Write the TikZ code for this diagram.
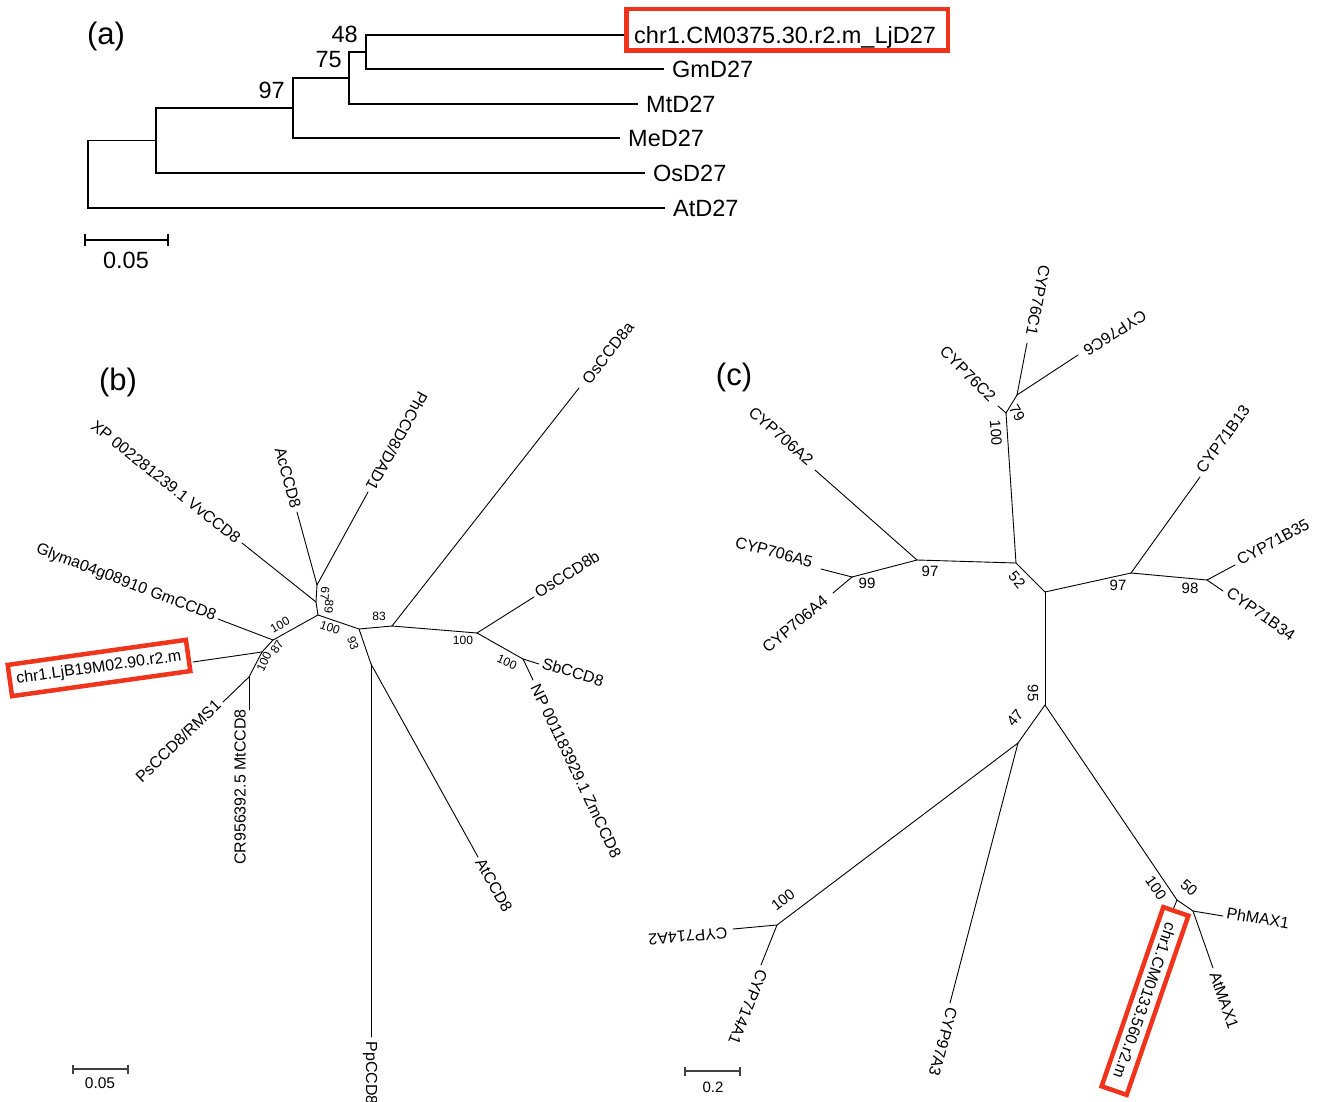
\documentclass[tikz,border=0pt]{standalone}
\usepackage{fontspec}
\setmainfont{Liberation Sans}
\definecolor{boxred}{RGB}{240,52,28}
\tikzset{
  br/.style={line width=0.9pt, line cap=round},
  bra/.style={line width=1.2pt},
  scb/.style={line width=1.2pt, draw=black!75},
  leafa/.style={font=\fontsize{23.5}{28}\selectfont, inner sep=0pt, anchor=base west},
  bsa/.style={font=\fontsize{23.5}{28}\selectfont, inner sep=0pt, anchor=base east},
  leaf/.style={font=\fontsize{16}{19}\selectfont, inner sep=0pt},
  bsb/.style={font=\fontsize{12}{14}\selectfont, inner sep=0pt},
  bsc/.style={font=\fontsize{15}{18}\selectfont, inner sep=0pt},
  panel/.style={font=\fontsize{31}{36}\selectfont, inner sep=0pt},
  redbox/.style={draw=boxred, line width=4.5pt},
}
\begin{document}
\begin{tikzpicture}[x=1pt,y=-1pt]
\useasboundingbox[fill=white] (0,0) rectangle (1318,1102);

%% ---------------- panel (a) ----------------
\node[panel] (pa) at (106,36) {(a)};
\coordinate (ar)  at (88,174.25);
\coordinate (a1)  at (156,140.5);
\coordinate (a97) at (293,108);
\coordinate (a75) at (349,78);
\coordinate (a48) at (366,52);
\coordinate (alj) at (626,35);
\coordinate (agm) at (664,69);
\coordinate (amt) at (638,104);
\coordinate (ame) at (620,138);
\coordinate (aos) at (645,173);
\coordinate (aat) at (665,208);
\draw[bra] (a48) |- (alj);
\draw[bra] (a48) |- (agm);
\draw[bra] (a75) |- (a48);
\draw[bra] (a75) |- (amt);
\draw[bra] (a97) |- (a75);
\draw[bra] (a97) |- (ame);
\draw[bra] (a1) |- (a97);
\draw[bra] (a1) |- (aos);
\draw[bra] (ar) |- (a1);
\draw[bra] (ar) |- (aat);
\node[leafa] (llj) at (634,43.4) {chr1.CM0375.30.r2.m\_LjD27};
\draw[redbox] (626.25,9.25) rectangle (947.75,50.75);
\node[leafa] (lgm) at (672,77.4) {GmD27};
\node[leafa] (lmt) at (646,112.4) {MtD27};
\node[leafa] (lme) at (628,146.4) {MeD27};
\node[leafa] (los) at (653,181.4) {OsD27};
\node[leafa] (lat) at (673,216.4) {AtD27};
\node[bsa] (b48) at (358,43) {48};
\node[bsa] (b75) at (342,68) {75};
\node[bsa] (b97) at (285,99) {97};
\coordinate (sa1) at (85,240);
\coordinate (sa2) at (168,240);
\draw[bra] (sa1) -- (sa2);
\draw[bra] ([yshift=6pt]sa1) -- ([yshift=-6pt]sa1);
\draw[bra] ([yshift=6pt]sa2) -- ([yshift=-6pt]sa2);
\node[font=\fontsize{23.5}{28}\selectfont, inner sep=0pt] (sla) at (126,260.5) {0.05};

%% ---------------- panel (b) ----------------
\node[panel] (pb) at (118,382) {(b)};
\coordinate (bA)  at (318,615);
\coordinate (bB)  at (273,640);
\coordinate (bC)  at (262,652);
\coordinate (bD)  at (249,677);
\coordinate (bE1) at (316,602);
\coordinate (bE2) at (317,585);
\coordinate (bF)  at (359,629);
\coordinate (bG)  at (392,626);
\coordinate (bH)  at (477,633);
\coordinate (bI)  at (523,659);
\coordinate (bJ)  at (371,664);
\coordinate (tGm) at (218,619);
\coordinate (tLj) at (193,662);
\coordinate (tPs) at (223,702);
\coordinate (tMt) at (249,710);
\coordinate (tVv) at (242,543);
\coordinate (tAc) at (297,512);
\coordinate (tPh) at (368,492);
\coordinate (tOsa) at (579,388);
\coordinate (tOsb) at (534,597);
\coordinate (tSb) at (539,664);
\coordinate (tZm) at (533,680);
\coordinate (tAt) at (478,857);
\coordinate (tPp) at (371,1037);
\draw[br] (bA) -- (bB);
\draw[br] (bB) -- (tGm);
\draw[br] (bB) -- (bC);
\draw[br] (bC) -- (tLj);
\draw[br] (bC) -- (bD);
\draw[br] (bD) -- (tPs);
\draw[br] (bD) -- (tMt);
\draw[br] (bA) -- (bE1);
\draw[br] (bE1) -- (tVv);
\draw[br] (bE1) -- (bE2);
\draw[br] (bE2) -- (tAc);
\draw[br] (bE2) -- (tPh);
\draw[br] (bA) -- (bF);
\draw[br] (bF) -- (bG);
\draw[br] (bG) -- (tOsa);
\draw[br] (bG) -- (bH);
\draw[br] (bH) -- (tOsb);
\draw[br] (bH) -- (bI);
\draw[br] (bI) -- (tSb);
\draw[br] (bI) -- (tZm);
\draw[br] (bF) -- (bJ);
\draw[br] (bJ) -- (tAt);
\draw[br] (bJ) -- (tPp);
\node[leaf, rotate=-38.6] (lVv) at (166,482) {XP 002281239.1 VvCCD8};
\node[leaf, rotate=-21] (lGm) at (126,583) {Glyma04g08910 GmCCD8};
\node[leaf, redbox, rotate=8, minimum width=180pt, minimum height=31.5pt] (lLj) at (99,668) {chr1.LjB19M02.90.r2.m};
\node[leaf, rotate=44] (lPs) at (178,741) {PsCCD8/RMS1};
\node[leaf, rotate=90] (lMt) at (240,787) {CR956392.5 MtCCD8};
\node[leaf, rotate=-75] (lAc) at (288,478) {AcCCD8};
\node[leaf, rotate=-119] (lPh) at (397,441) {PhCCD8/DAD1};
\node[leaf, rotate=52] (lOsa) at (608,353) {OsCCD8a};
\node[leaf, rotate=32] (lOsb) at (567,574) {OsCCD8b};
\node[leaf, rotate=-17] (lSb) at (573,672) {SbCCD8};
\node[leaf, rotate=-64.5] (lZm) at (576,771) {NP 001183929.1 ZmCCD8};
\node[leaf, rotate=-61] (lAt) at (494,885) {AtCCD8};
\node[leaf, rotate=-90] (lPp) at (370,1073) {PpCCD8};
\node[bsb, rotate=29] (bb1) at (280,625) {100};
\node[bsb, rotate=58] (bb2) at (277,647) {87};
\node[bsb, rotate=65] (bb3) at (264,662) {100};
\node[bsb, rotate=-95] (bb4) at (325,594) {67};
\node[bsb, rotate=-95] (bb5) at (329,607) {89};
\node[bsb, rotate=-19] (bb6) at (330,628) {100};
\node[bsb] (bb7) at (379,616) {83};
\node[bsb, rotate=-70] (bb8) at (353,643) {93};
\node[bsb] (bb9) at (463,640) {100};
\node[bsb, rotate=-25] (bb10) at (507,662) {100};
\coordinate (sb1) at (73,1069);
\coordinate (sb2) at (128,1069);
\draw[scb] (sb1) -- (sb2);
\draw[scb] ([yshift=4.5pt]sb1) -- ([yshift=-4.5pt]sb1);
\draw[scb] ([yshift=4.5pt]sb2) -- ([yshift=-4.5pt]sb2);
\node[font=\fontsize{15.5}{18}\selectfont, inner sep=0pt] (slb) at (100,1083) {0.05};

%% ---------------- panel (c) ----------------
\node[panel] (pc) at (734,377) {(c)};
\coordinate (cK) at (1016,563);
\coordinate (cL) at (917,560);
\coordinate (cM) at (852,577);
\coordinate (cN) at (1006,413);
\coordinate (cO) at (1017,395);
\coordinate (cP) at (1045,592);
\coordinate (cQ) at (1131,573);
\coordinate (cS) at (1207,580);
\coordinate (cR) at (1045,705);
\coordinate (cT) at (1018,743);
\coordinate (cU) at (777,925);
\coordinate (cV) at (1177,900);
\coordinate (cW) at (1193,911);
\coordinate (tA2) at (815,470);
\coordinate (tA5) at (821,569);
\coordinate (tA4) at (833,593);
\coordinate (tC2) at (998,406);
\coordinate (tC1) at (1027,343);
\coordinate (tC6) at (1078,355);
\coordinate (tB13) at (1200,477);
\coordinate (tB35) at (1235,565);
\coordinate (tB34) at (1223,591);
\coordinate (tX2) at (733,929);
\coordinate (tX1) at (761,965);
\coordinate (t97) at (950,1003);
\coordinate (tCM) at (1172,912);
\coordinate (tPhM) at (1223,916);
\coordinate (tAtM) at (1213,968);
\draw[br] (cP) -- (cK);
\draw[br] (cK) -- (cL);
\draw[br] (cL) -- (tA2);
\draw[br] (cL) -- (cM);
\draw[br] (cM) -- (tA5);
\draw[br] (cM) -- (tA4);
\draw[br] (cK) -- (cN);
\draw[br] (cN) -- (tC2);
\draw[br] (cN) -- (cO);
\draw[br] (cO) -- (tC1);
\draw[br] (cO) -- (tC6);
\draw[br] (cP) -- (cQ);
\draw[br] (cQ) -- (tB13);
\draw[br] (cQ) -- (cS);
\draw[br] (cS) -- (tB35);
\draw[br] (cS) -- (tB34);
\draw[br] (cP) -- (cR);
\draw[br] (cR) -- (cT);
\draw[br] (cT) -- (cU);
\draw[br] (cU) -- (tX2);
\draw[br] (cU) -- (tX1);
\draw[br] (cT) -- (t97);
\draw[br] (cR) -- (cV);
\draw[br] (cV) -- (tCM);
\draw[br] (cV) -- (cW);
\draw[br] (cW) -- (tPhM);
\draw[br] (cW) -- (tAtM);
\node[leaf, rotate=-41] (lA2) at (781,436) {CYP706A2};
\node[leaf, rotate=-15] (lA5) at (774,552) {CYP706A5};
\node[leaf, rotate=40] (lA4) at (795,624) {CYP706A4};
\node[leaf, rotate=-45] (lC2) at (968,374) {CYP76C2};
\node[leaf, rotate=-101] (lC1) at (1038,300) {CYP76C1};
\node[leaf, rotate=-147] (lC6) at (1115,333) {CYP76C6};
\node[leaf, rotate=54] (lB13) at (1223,439) {CYP71B13};
\node[leaf, rotate=28] (lB35) at (1273,542) {CYP71B35};
\node[leaf, rotate=-35] (lB34) at (1261,614) {CYP71B34};
\node[leaf, rotate=-175] (lX2) at (688,936) {CYP714A2};
\node[leaf, rotate=-112] (lX1) at (748,1007) {CYP714A1};
\node[leaf, rotate=-105] (l97) at (943,1042) {CYP97A3};
\node[leaf, redbox, rotate=-109, minimum width=189.5pt, minimum height=26.5pt] (lCM) at (1145,1001) {chr1.CM0133.560.r2.m};
\node[leaf, rotate=-10] (lPhM) at (1258,918) {PhMAX1};
\node[leaf, rotate=-71] (lAtM) at (1224,1000) {AtMAX1};
\node[bsc] (cb1) at (930,571) {97};
\node[bsc] (cb2) at (867,583) {99};
\node[bsc, rotate=-50] (cb3) at (1017,580) {52};
\node[bsc, rotate=-86] (cb4) at (996,433) {100};
\node[bsc, rotate=-60] (cb5) at (1017,413) {79};
\node[bsc] (cb6) at (1118,585) {97};
\node[bsc] (cb7) at (1190,588) {98};
\node[bsc, rotate=-90] (cb8) at (1033,693) {95};
\node[bsc, rotate=50] (cb9) at (1015,718) {47};
\node[bsc, rotate=38] (cb10) at (783,900) {100};
\node[bsc, rotate=-55] (cb11) at (1156,888) {100};
\node[bsc, rotate=-40] (cb12) at (1189,888) {50};
\coordinate (sc1) at (685,1071);
\coordinate (sc2) at (740,1071);
\draw[scb] (sc1) -- (sc2);
\draw[scb] ([yshift=4.5pt]sc1) -- ([yshift=-4.5pt]sc1);
\draw[scb] ([yshift=4.5pt]sc2) -- ([yshift=-4.5pt]sc2);
\node[font=\fontsize{15}{18}\selectfont, inner sep=0pt] (slc) at (713,1087) {0.2};
\end{tikzpicture}
\end{document}
